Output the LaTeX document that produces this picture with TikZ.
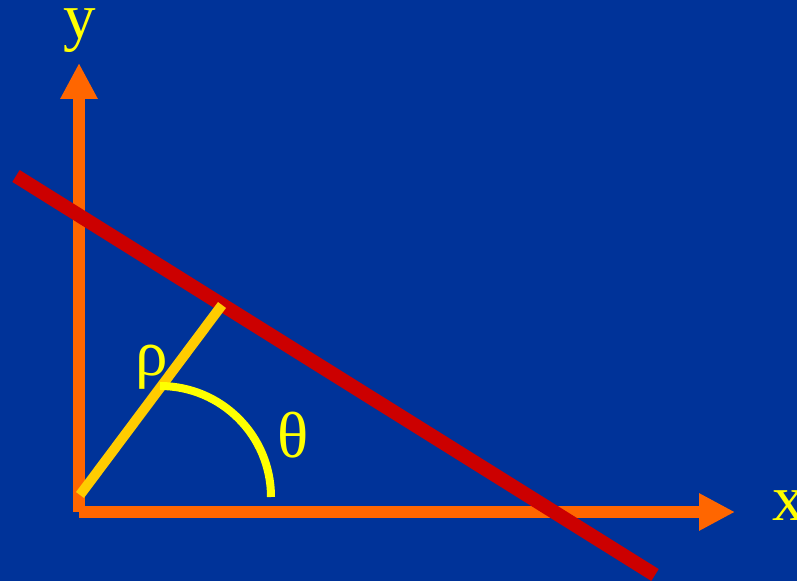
\documentclass[tikz,border=0pt]{standalone}
\usepackage{fontspec}
\setmainfont{Liberation Serif}
\usetikzlibrary{arrows.meta}
\definecolor{bgblue}{HTML}{003399}
\definecolor{axisorange}{HTML}{FF6600}
\definecolor{linered}{HTML}{CC0000}
\definecolor{rhogold}{HTML}{FFCC00}
\definecolor{labelyellow}{HTML}{FFFF00}
\begin{document}
\begin{tikzpicture}[x=1pt,y=1pt,
  axis/.style={draw=axisorange,line width=12pt,line cap=butt,
    -{Triangle[length=36pt,width=35pt,fill=axisorange]}},
  lbl/.style={text=labelyellow,inner sep=0pt,font=\fontsize{65}{78}\selectfont}]
\fill[bgblue] (0,0) rectangle (797,581);
\useasboundingbox (0,0) rectangle (797,581);
\coordinate (O) at (79,69);
\coordinate (ytip) at (79,518);
\coordinate (xtip) at (735,69);
\coordinate (r1) at (16,405);
\coordinate (r2) at (655,6);
\coordinate (p0) at (80,86);
\coordinate (p1) at (222,276);
\coordinate (a0) at (160,195);
\draw[axis] (O) -- (ytip);
\draw[axis] (O) -- (xtip);
\draw[draw=linered,line width=14pt] (r1) -- (r2);
\draw[draw=rhogold,line width=10pt] (p0) -- (p1);
\draw[draw=labelyellow,line width=8pt] (a0) arc[start angle=90,end angle=0,radius=111];
\node[lbl,anchor=base] (ylab) at (80,542) {y};
\node[lbl,anchor=base west] (xlab) at (772,61) {x};
\node[lbl,anchor=base west] (rholab) at (135,205) {ρ};
\node[lbl,anchor=base west] (thetalab) at (277,124) {θ};
\end{tikzpicture}
\end{document}
